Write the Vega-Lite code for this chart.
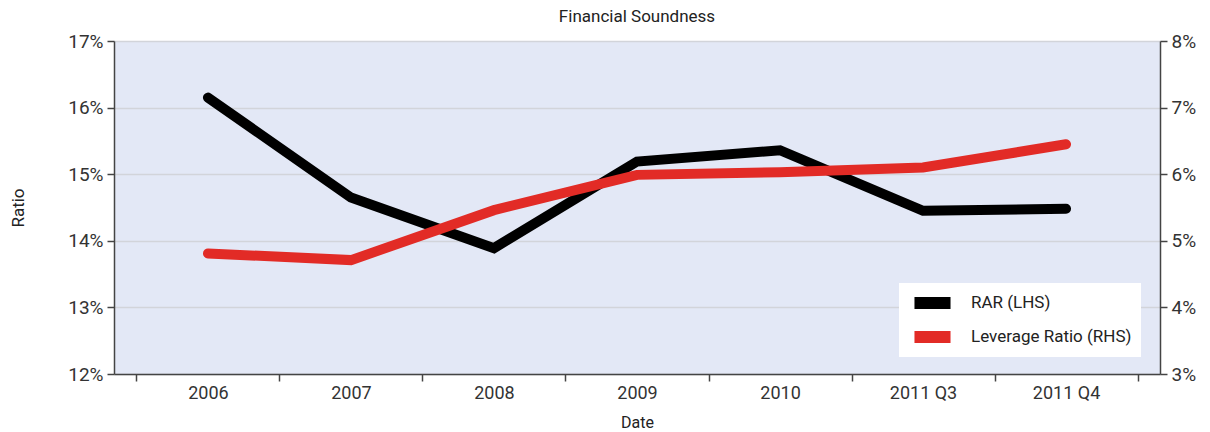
{
  "$schema": "https://vega.github.io/schema/vega-lite/v6.json",
  "width": 1046,
  "height": 333,
  "autosize": "none",
  "padding": {"left": 114, "top": 41, "right": 50, "bottom": 58},
  "background": "white",
  "title": {"text": "Financial Soundness", "fontSize": 17, "fontWeight": "normal", "color": "#222", "offset": 6},
  "config": {
    "view": {"fill": "#e3e8f6", "stroke": null},
    "font": "Roboto, sans-serif",
    "axis": {"labelFontSize": 19, "labelColor": "#333", "titleFontSize": 17, "titleFontWeight": "normal", "titleColor": "#222", "domainColor": "#444", "domainWidth": 1.5, "tickColor": "#444", "tickWidth": 1.5, "tickSize": 7, "gridColor": "#d2d4da", "gridWidth": 1.5}
  },
  "data": {"values": [
    {"date": "2006", "series": "RAR (LHS)", "value": 16.15},
    {"date": "2007", "series": "RAR (LHS)", "value": 14.65},
    {"date": "2008", "series": "RAR (LHS)", "value": 13.89},
    {"date": "2009", "series": "RAR (LHS)", "value": 15.19},
    {"date": "2010", "series": "RAR (LHS)", "value": 15.36},
    {"date": "2011 Q3", "series": "RAR (LHS)", "value": 14.45},
    {"date": "2011 Q4", "series": "RAR (LHS)", "value": 14.48},
    {"date": "2006", "series": "Leverage Ratio (RHS)", "value": 4.81},
    {"date": "2007", "series": "Leverage Ratio (RHS)", "value": 4.71},
    {"date": "2008", "series": "Leverage Ratio (RHS)", "value": 5.46},
    {"date": "2009", "series": "Leverage Ratio (RHS)", "value": 5.99},
    {"date": "2010", "series": "Leverage Ratio (RHS)", "value": 6.03},
    {"date": "2011 Q3", "series": "Leverage Ratio (RHS)", "value": 6.1},
    {"date": "2011 Q4", "series": "Leverage Ratio (RHS)", "value": 6.45}
  ]},
  "encoding": {
    "x": {"field": "date", "type": "ordinal", "sort": null, "title": "Date",
      "scale": {"type": "band", "paddingInner": 0, "paddingOuter": 0.157},
      "axis": {"labelAngle": 0, "tickBand": "extent", "labelPadding": 3, "labelFontSize": 18, "titleFontSize": 16, "titlePadding": 12, "grid": false}},
    "color": {"field": "series", "type": "nominal", "title": null,
      "scale": {"domain": ["RAR (LHS)", "Leverage Ratio (RHS)"], "range": ["#000000", "#e22b26"]},
      "legend": {"orient": "none", "legendX": 785, "legendY": 242, "fillColor": "white", "padding": 9, "symbolType": "stroke", "symbolStrokeWidth": 12, "symbolSize": 1300, "clipHeight": 22, "labelFontSize": 17, "labelColor": "#222", "rowPadding": 12, "labelOffset": 14, "symbolOpacity": 1, "labelLimit": 300}}
  },
  "layer": [
    {
      "transform": [{"filter": "datum.series === 'RAR (LHS)'"}],
      "mark": {"type": "line", "strokeWidth": 10, "strokeCap": "round", "strokeJoin": "miter"},
      "encoding": {
        "y": {"field": "value", "type": "quantitative", "title": "Ratio",
          "scale": {"domain": [12, 17], "nice": false, "zero": false},
          "axis": {"orient": "left", "values": [12, 13, 14, 15, 16, 17], "labelExpr": "datum.value + '%'", "grid": true, "titlePadding": 40, "labelPadding": 4}}
      }
    },
    {
      "transform": [{"filter": "datum.series === 'Leverage Ratio (RHS)'"}],
      "mark": {"type": "line", "strokeWidth": 10, "strokeCap": "round", "strokeJoin": "miter"},
      "encoding": {
        "y": {"field": "value", "type": "quantitative", "title": null,
          "scale": {"domain": [3, 8], "nice": false, "zero": false},
          "axis": {"orient": "right", "values": [3, 4, 5, 6, 7, 8], "labelExpr": "datum.value + '%'", "grid": false, "labelPadding": 4}}
      }
    }
  ],
  "resolve": {"scale": {"y": "independent"}}
}
